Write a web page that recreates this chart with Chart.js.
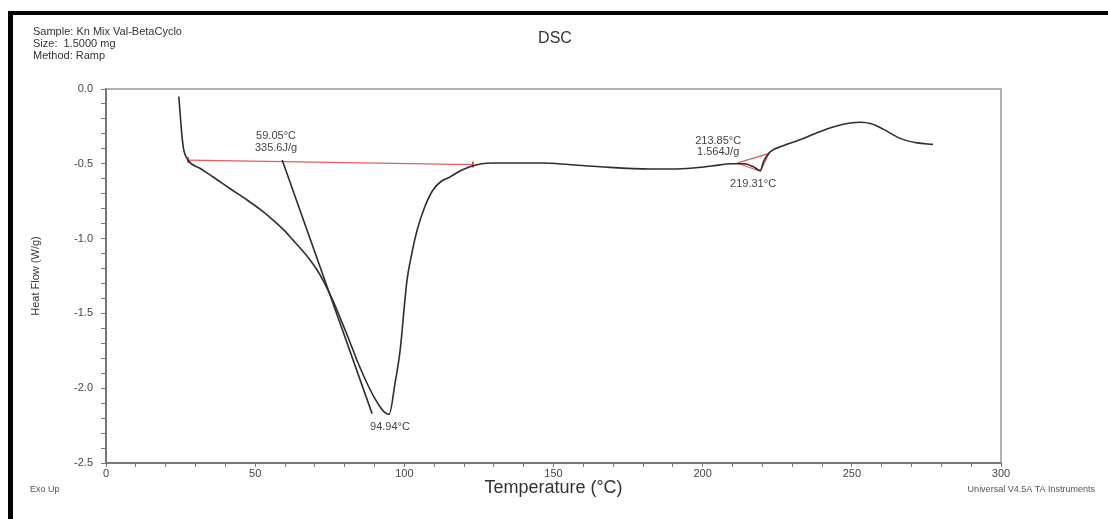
<!DOCTYPE html>
<html>
<head>
<meta charset="utf-8">
<script src="https://cdn.jsdelivr.net/npm/chart.js@4.4.0/dist/chart.umd.min.js"></script>
<style>
html, body { margin: 0; padding: 0; background: #fff; }
#wrap { position: relative; width: 1108px; height: 519px; }
#frame { position: absolute; left: 8px; top: 11px; right: 0; bottom: 0;
         border-top: 4px solid #000; border-left: 5px solid #000; pointer-events: none; }
</style>
</head>
<body>
<div id="wrap"><canvas id="dsc"></canvas><div id="frame"></div></div>
<script>
'use strict';

// DSC trace (temperature °C, heat flow W/g)
const tempC = [24.4, 24.8, 25.4, 26.0, 27.5, 31.5, 35.9, 41.5, 47.3, 52, 56, 59.5, 62.7,
    65.6, 68.4, 70.6, 72.7, 74.9, 77.0, 79.0, 81.1, 82.8, 84.5, 86.3, 88.1, 90.0, 91.9, 93.3,
    94.9, 96.9, 98.6, 100.2, 100.9, 102.5, 104.3, 106.8, 109.6,
    112.5, 115.3, 118.5, 122, 126, 129.7, 135, 146.5, 155, 165.6, 182.4, 190, 196.8, 203,
    210, 213.8, 217, 219.3, 220.5, 222.6, 227, 232.6, 238, 243.7, 249.4, 253, 256.5,
    260.5, 266.2, 271.9, 277.2];
const heatFlow = [-0.05, -0.15, -0.30, -0.40, -0.475, -0.53, -0.588, -0.665, -0.742, -0.81,
    -0.876, -0.94, -1.01, -1.075, -1.143, -1.205, -1.277, -1.365, -1.457, -1.555, -1.658,
    -1.745, -1.832, -1.915, -1.992, -2.065, -2.126, -2.16, -2.175,
    -1.965, -1.745, -1.41,
    -1.277, -1.10, -0.943, -0.79, -0.675, -0.615, -0.588, -0.55, -0.52, -0.50, -0.495,
    -0.495, -0.495, -0.505, -0.52, -0.535, -0.535, -0.528, -0.515, -0.50, -0.50, -0.52,
    -0.545, -0.48, -0.42, -0.38, -0.34, -0.295, -0.254, -0.227, -0.222, -0.232, -0.268,
    -0.33, -0.36, -0.37];

// onset tangent
const tangentT = [59.05, 89.2];
const tangentHF = [-0.475, -2.17];

// integration baselines (red)
const baseT = [27.5, 123];
const baseHF = [-0.475, -0.505];
const base2T = [211.5, 219.3, 222.3, 211.5];
const base2HF = [-0.495, -0.55, -0.43, -0.495];

// peak annotations
const annoText = ['59.05°C', '335.6J/g', '94.94°C', '213.85°C', '1.564J/g', '219.31°C'];
const annoT = [57.0, 57.0, 95.2, 205.2, 205.2, 216.9];
const annoHF = [-0.314, -0.394, -2.26, -0.348, -0.421, -0.635];

const headerLines = ['Sample: Kn Mix Val-BetaCyclo', 'Size:  1.5000 mg', 'Method: Ramp'];

const AXIS = '#777';
const TXT = '#444';

const pts = (xs, ys) => xs.map((x, i) => ({ x, y: ys[i] }));

const overlay = {
    id: 'overlay',
    afterDraw(chart) {
        const { ctx, chartArea: a, scales: { x, y } } = chart;
        ctx.save();
        // plot box top/right edges
        ctx.strokeStyle = '#999';
        ctx.lineWidth = 1.5;
        ctx.beginPath();
        ctx.moveTo(a.left, a.top);
        ctx.lineTo(a.right, a.top);
        ctx.lineTo(a.right, a.bottom);
        ctx.stroke();

        ctx.fillStyle = TXT;
        ctx.textBaseline = 'middle';
        ctx.font = "11px 'Liberation Sans', Arial, sans-serif";
        ctx.textAlign = 'center';
        annoText.forEach((t, i) => {
            ctx.fillText(t, x.getPixelForValue(annoT[i]), y.getPixelForValue(annoHF[i]));
        });

        ctx.textAlign = 'left';
        ctx.fillStyle = '#333';
        headerLines.forEach((t, i) => ctx.fillText(t, 33, 32 + i * 12));
        ctx.font = "16px 'Liberation Sans', Arial, sans-serif";
        ctx.textAlign = 'center';
        ctx.fillText('DSC', 555, 39);

        ctx.font = "9px 'Liberation Sans', Arial, sans-serif";
        ctx.fillStyle = '#555';
        ctx.textAlign = 'left';
        ctx.fillText('Exo Up', 30, 490);
        ctx.textAlign = 'right';
        ctx.fillText('Universal V4.5A TA Instruments', 1095, 490);
        ctx.restore();
    }
};

new Chart(document.getElementById('dsc'), {
    type: 'scatter',
    data: {
        datasets: [
            {
                label: 'Heat Flow',
                data: pts(tempC, heatFlow),
                showLine: true, borderColor: '#2e2e2e', borderWidth: 1.6,
                pointRadius: 0, cubicInterpolationMode: 'monotone',
            },
            {
                label: 'Tangent',
                data: pts(tangentT, tangentHF),
                showLine: true, borderColor: '#2e2e2e', borderWidth: 1.6, pointRadius: 0,
            },
            {
                label: 'Baseline',
                data: pts(baseT, baseHF),
                showLine: true, borderColor: '#e06060', borderWidth: 1.2,
                pointStyle: 'line', rotation: 90, pointRadius: 3,
                pointBorderColor: '#c03030', pointBorderWidth: 1.5,
            },
            {
                label: 'Baseline 2',
                data: pts(base2T, base2HF),
                showLine: true, borderColor: '#e06060', borderWidth: 1.2, pointRadius: 0,
            },
        ],
    },
    options: {
        responsive: true, maintainAspectRatio: false, animation: false,
        layout: { padding: { top: 89, right: 107, left: 0, bottom: 0 } },
        plugins: { legend: { display: false }, tooltip: { enabled: false } },
        scales: {
            x: {
                type: 'linear', min: 0, max: 300,
                afterFit: s => { s.height = 56; },
                border: { color: AXIS, width: 2 },
                grid: { drawOnChartArea: false, drawTicks: true, tickLength: 4, tickColor: AXIS },
                ticks: {
                    stepSize: 10, autoSkip: false, maxRotation: 0, padding: 0,
                    color: TXT, font: { size: 11, family: "'Liberation Sans', Arial, sans-serif" },
                    callback: v => (v % 50 === 0 ? String(v) : ''),
                },
                title: {
                    display: true, text: 'Temperature (°C)', color: '#333',
                    font: { size: 18, family: "'Liberation Sans', Arial, sans-serif" },
                    padding: { top: 0, bottom: 20 },
                },
            },
            y: {
                type: 'linear', min: -2.5, max: 0,
                afterFit: s => { s.width = 106; },
                border: { color: AXIS, width: 2 },
                grid: { drawOnChartArea: false, drawTicks: true, tickLength: 5, tickColor: AXIS },
                ticks: {
                    stepSize: 0.1, autoSkip: false, padding: 8,
                    color: TXT, font: { size: 11, family: "'Liberation Sans', Arial, sans-serif" },
                    callback: v => (Math.abs(v * 2 - Math.round(v * 2)) < 1e-6 ? Math.abs(v) < 1e-9 ? '0.0' : v.toFixed(1) : ''),
                },
                title: {
                    display: true, text: 'Heat Flow (W/g)', color: '#333',
                    font: { size: 11, family: "'Liberation Sans Narrow', 'Liberation Sans', Arial, sans-serif" },
                    padding: { top: 29, bottom: 0 },
                },
            },
        },
    },
    plugins: [overlay],
});
</script>
</body>
</html>
